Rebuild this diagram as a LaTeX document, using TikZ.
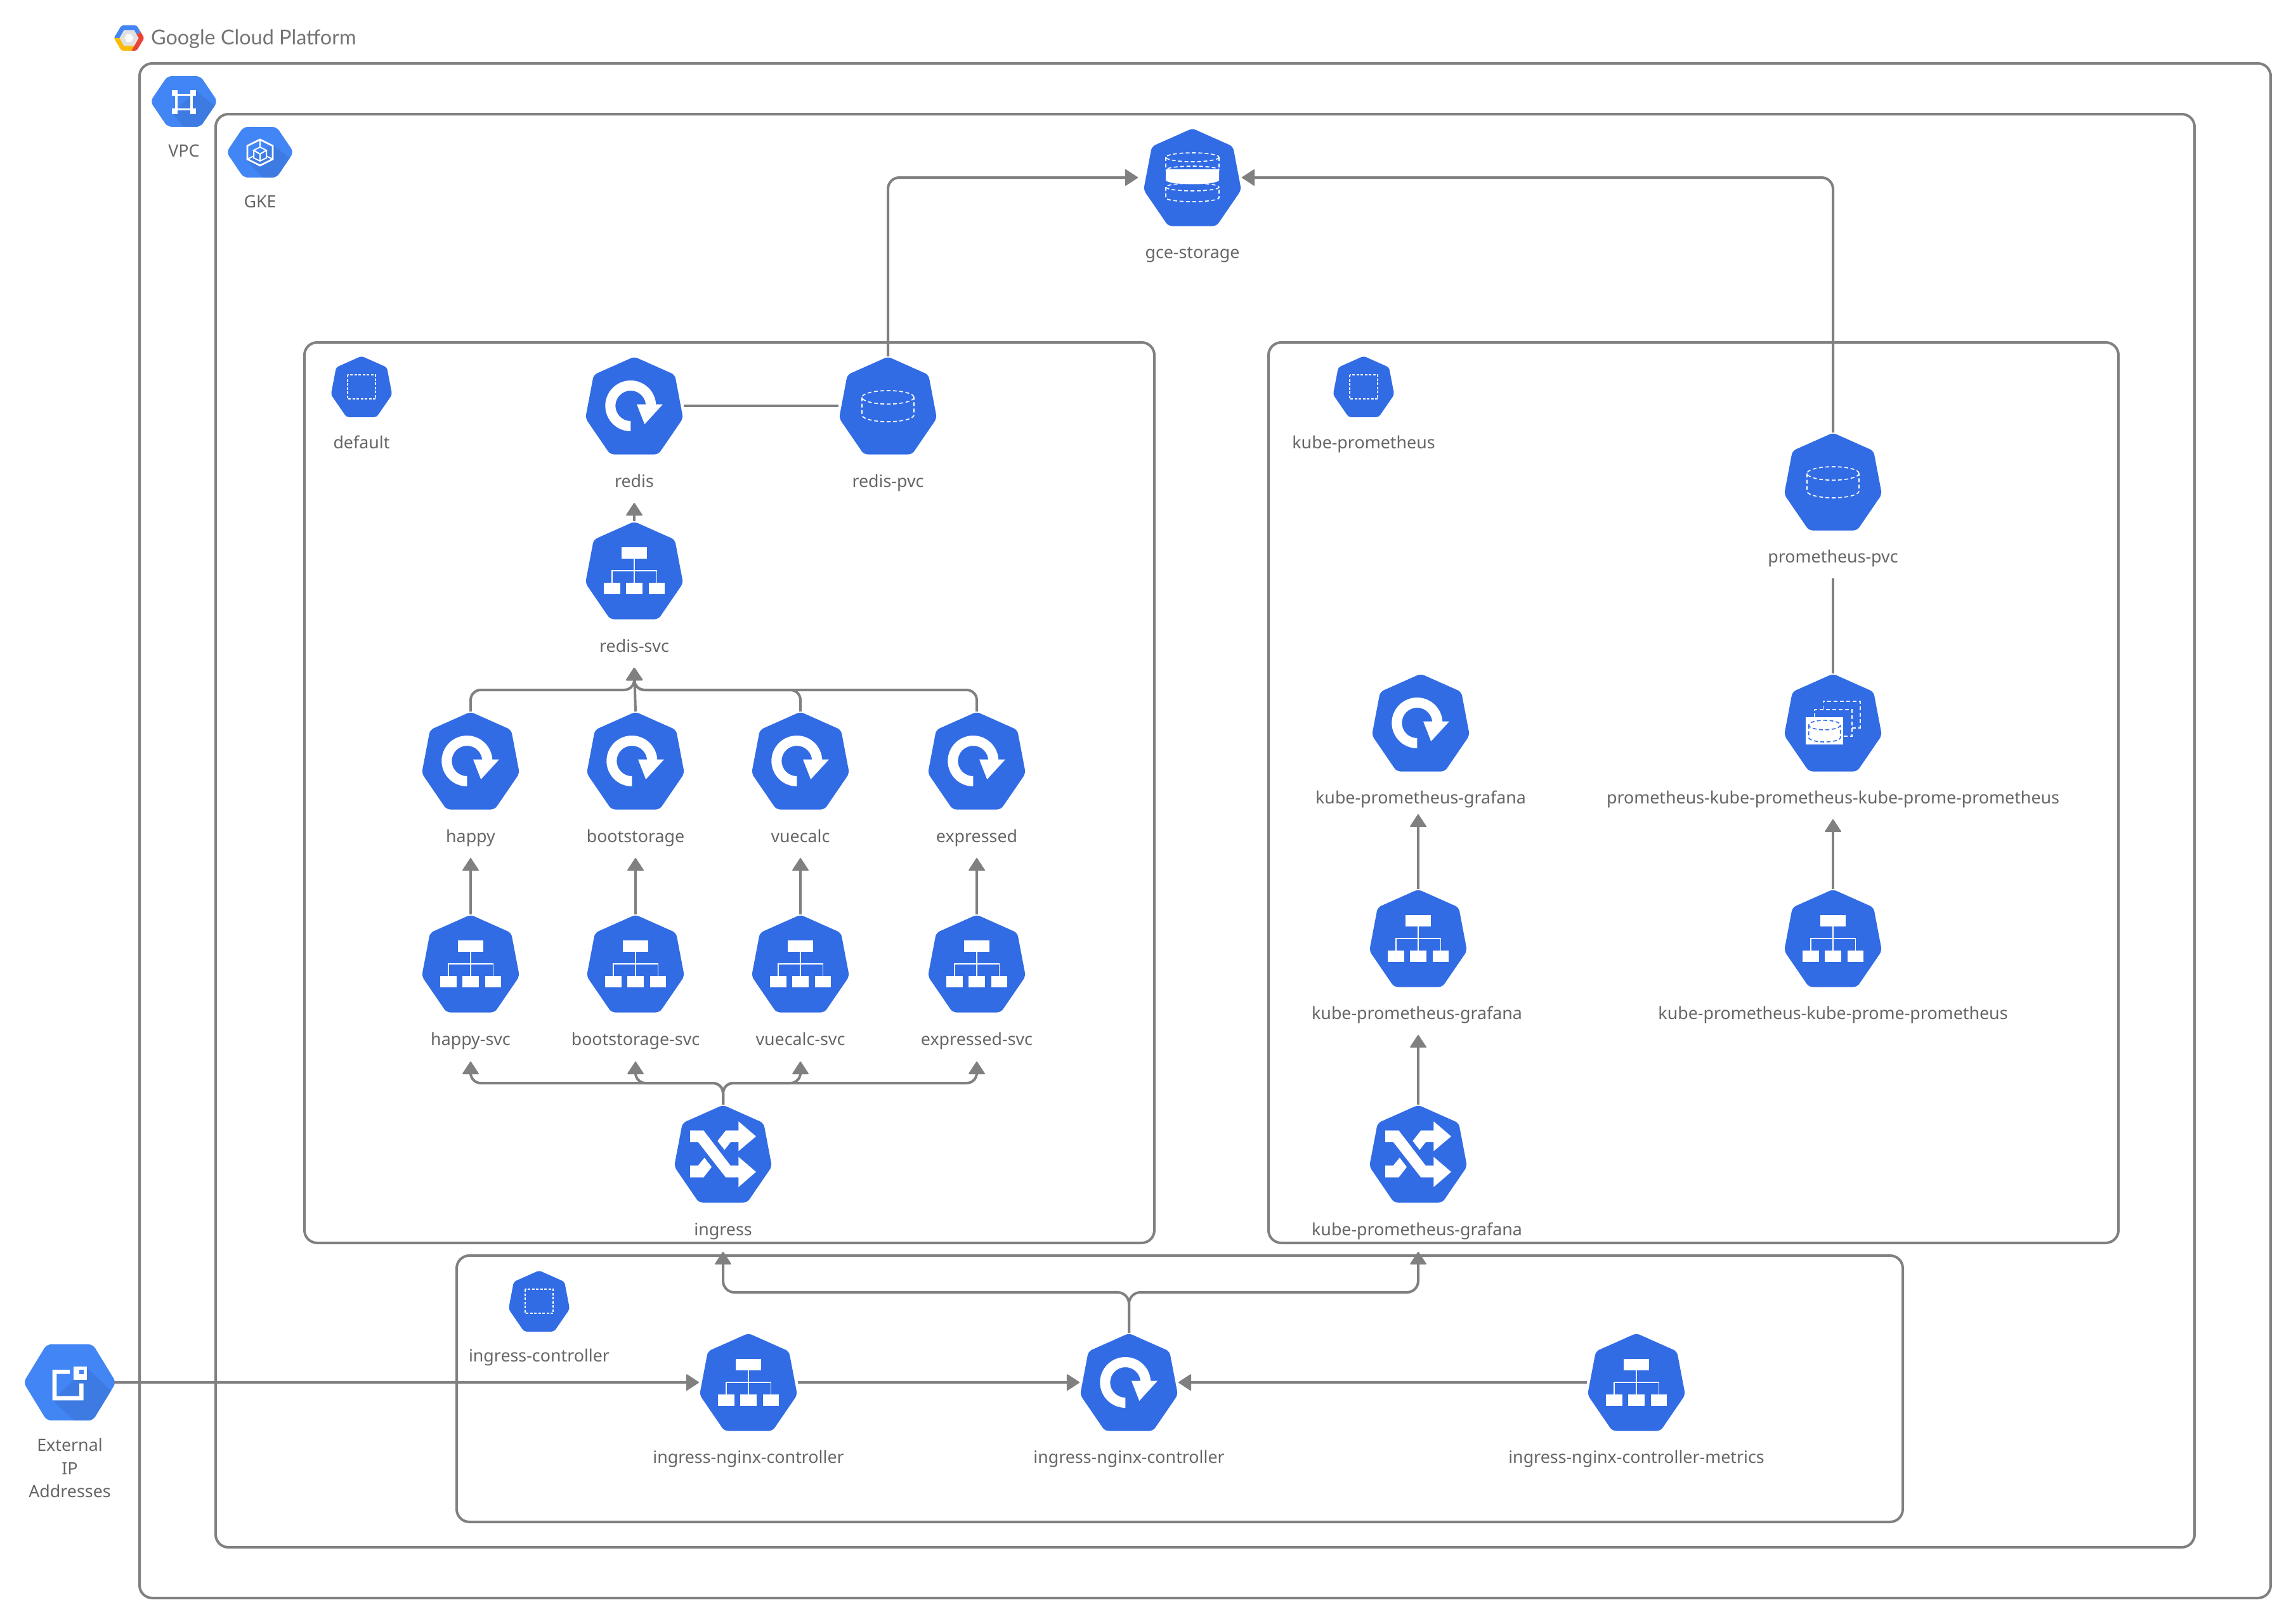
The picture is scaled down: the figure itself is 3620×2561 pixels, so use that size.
\documentclass[tikz,border=0pt]{standalone}
\usepackage{fontspec}
\setmainfont{Noto Sans}
\newfontfamily\gcpfont{Lato}
\usetikzlibrary{arrows.meta,calc}
\definecolor{kblue}{HTML}{326CE5}
\definecolor{gblue}{HTML}{4285F4}
\definecolor{gshade}{HTML}{3D7BE2}
\definecolor{linegray}{HTML}{808080}
\definecolor{txtgray}{HTML}{666666}
\definecolor{gred}{HTML}{EA4335}
\definecolor{gyellow}{HTML}{FBBC05}
\definecolor{glight}{HTML}{E1E1E1}
\definecolor{gtitle}{HTML}{757575}
\tikzset{
  x=1pt,y=-1pt,
  box/.style={draw=linegray,line width=4pt,rounded corners=20pt,inner sep=0pt,outer sep=0pt},
  knode/.style={minimum width=152pt,minimum height=152pt,inner sep=0pt,outer sep=2pt},
  knodes/.style={minimum width=95pt,minimum height=95pt,inner sep=0pt,outer sep=0pt},
  gnode/.style={inner sep=0pt,outer sep=0pt},
  lab/.style={font=\fontsize{26.8pt}{32pt}\selectfont,text=txtgray,inner sep=0pt,outer sep=0pt,
     text height=27pt,text depth=8pt,minimum height=68pt},
  line/.style={draw=linegray,line width=4pt},
  conn/.style={line,-{Triangle[length=21pt,width=27pt,round,line width=2pt]}},
  bent/.style={rounded corners=18pt},
  dashw/.style={draw=white,line width=1.6pt,dash pattern=on 6pt off 4pt},
  dashb/.style={draw=kblue,line width=1.6pt,dash pattern=on 6pt off 4pt},
}
\newcommand\heptpath{(0,-77.5) -- (64,-49) -- (77,19.5) -- (38,76.5) -- (-38,76.5) -- (-77,19.5) -- (-64,-49) -- cycle}
% icons
\newcommand\icondeploy{%
  \fill[white] (-5.7,40) arc[start angle=90,end angle=360,radius=40] -- (18.3,0)
     arc[start angle=360,end angle=90,radius=24] -- cycle;
  \fill[white] (4,-2.4) -- (45,-2.4) -- (16.3,29) -- cycle;
}
\newcommand\iconsvc{%
  \fill[white] (-20.4,-36.7) rectangle (20.4,-18.8);
  \fill[white] (-48,19.2) rectangle (-22.5,36.7);
  \fill[white] (-13,19.2) rectangle (13,36.7);
  \fill[white] (22.5,19.2) rectangle (48,36.7);
  \draw[white,line width=1.6pt] (0,-18.8) -- (0,19.2) (-35.3,19.2) -- (-35.3,0) -- (35.3,0) -- (35.3,19.2);
}
\newcommand\iconpvc{%
  \draw[dashw] (0,-13.4) ellipse [x radius=41,y radius=10.6];
  \draw[dashw] (-41,-13.4) -- (-41,14.4) arc[start angle=180,end angle=0,x radius=41,y radius=10.6] -- (41,-13.4);
}
\newcommand\icongce{%
  \fill[white] (-42,-13) -- (-42,4) arc[start angle=180,end angle=0,x radius=42,y radius=6.5] -- (42,-13) -- cycle;
  \draw[dashw] (0,-32) ellipse [x radius=42,y radius=7];
  \draw[dashw] (-42,-32) -- (-42,-12) (42,-32) -- (42,-12);
  \draw[dashw] (0,-12) ellipse [x radius=42,y radius=6];
  \draw[dashw] (0,15) ellipse [x radius=42,y radius=6];
  \draw[dashw] (-42,15) -- (-42,32) arc[start angle=180,end angle=0,x radius=42,y radius=6] -- (42,15);
}
\newcommand\iconsts{%
  \draw[dashw] (-15.7,-21) -- (-15.7,-34) -- (43,-34) -- (43,7.7) -- (30,7.7);
  \draw[dashw] (-29,-9) -- (-29,-21) -- (30,-21) -- (30,20.7) -- (16,20.7);
  \fill[white] (-42.7,-9) rectangle (16,33.7);
  \draw[dashb] (-13.3,3.4) ellipse [x radius=25,y radius=7.5];
  \draw[dashb] (-38.3,3.4) -- (-38.3,23) arc[start angle=180,end angle=0,x radius=25,y radius=7] -- (11.7,3.4);
}
\newcommand\iconing{%
  \fill[white] (-52,-37.3) -- (-30.7,-37.3) -- (11.7,18) -- (24.3,18) -- (24.3,4.3) -- (52,28) -- (24.3,52) -- (24.3,36.7) -- (4.3,36.7) -- (-39.3,-19) -- (-52,-19) -- cycle;
  \fill[white] (24.3,-51.7) -- (52,-28) -- (24.3,-4.7) -- (24.3,-19) -- (12,-19) -- (2.3,-6.7) -- (-8.7,-20.7) -- (4.3,-37.3) -- (24.3,-37.3) -- cycle;
  \fill[white] (-52,18) -- (-39.3,18) -- (-29.3,5.7) -- (-18,20.3) -- (-30.7,36.7) -- (-52,36.7) -- cycle;
}
\newcommand\kube[4]{%
  \node[knode] (#1) at (#2,#3) {};
  \begin{scope}[shift={(#2,#3)}]
    \fill[kblue,rounded corners=6pt] \heptpath;
    #4
  \end{scope}}
\newcommand\kubens[3]{%
  \node[knodes] (#1) at (#2,#3) {};
  \begin{scope}[shift={(#2,#3)}]
    \fill[kblue,rounded corners=4pt] (0,-48.5) -- (40,-30.7) -- (48.2,12.2) -- (23.7,47.8) -- (-23.7,47.8) -- (-48.2,12.2) -- (-40,-30.7) -- cycle;
    \draw[draw=white,line width=1.6pt,dash pattern=on 4pt off 2.5pt] (-22,-19) rectangle (22,19);
  \end{scope}}
\newcommand\lab[4]{\node[lab] (#1) at (#2,#3) {#4};}
% hexagon of the GCP icons: name, x, y, half width, half height, shade polygon, icon
\newcommand\gcphex[7]{%
  \node[gnode,minimum width=#4*2 pt,minimum height=#5*2 pt] (#1) at (#2,#3) {};
  \begin{scope}[shift={(#2,#3)}]
    \begin{scope}
      \clip[rounded corners=7pt] (-#4-3,0) -- ({-0.52*#4},-#5) -- ({0.52*#4},-#5) -- (#4+3,0) -- ({0.52*#4},#5) -- ({-0.52*#4},#5) -- cycle;
      \fill[gblue] (-#4-3,-#5) rectangle (#4+3,#5);
      \fill[gshade] #6;
    \end{scope}
    #7
  \end{scope}}
\begin{document}
\begin{tikzpicture}
\useasboundingbox (0,0) rectangle (3620,2561);
\fill[white] (0,0) rectangle (3620,2561);
% containers
\node[box,minimum width=3360pt,minimum height=2420pt] (vpcbox) at (1900,1310) {};
\node[box,minimum width=3120pt,minimum height=2260pt] (gkebox) at (1900,1310) {};
\node[box,minimum width=1340pt,minimum height=1420pt] (defbox) at (1150,1250) {};
\node[box,minimum width=1340pt,minimum height=1420pt] (kpbox) at (2670,1250) {};
\node[box,minimum width=2280pt,minimum height=420pt] (icbox) at (1860,2190) {};
% Google Cloud Platform logo
\node[gnode] (gcplogo) at (203.5,60) {};
\begin{scope}[shift={(203.5,60)}]
  \begin{scope}
    \clip[rounded corners=3pt] (-24,0) -- (-12,-20) -- (12,-20) -- (24,0) -- (12,20) -- (-12,20) -- cycle;
    \fill[gblue] (-25,0) -- (-25,-21) -- (12,-21) -- (18,-9) -- (0,0) -- cycle;
    \fill[gred] (12,-21) -- (25,-21) -- (25,21) -- (3,21) -- (15,0) -- (0,0) -- (18,-9) -- cycle;
    \fill[gyellow] (-25,0) -- (-25,21) -- (3,21) -- (8,12) -- (0,0) -- cycle;
  \end{scope}
  \fill[glight] (-15,0) -- (-8,-12.5) -- (8,-12.5) -- (15,0) -- (8,12.5) -- (-8,12.5) -- cycle;
  \fill[white!90!glight] (-7,0) -- (-3.5,-6) -- (3.5,-6) -- (7,0) -- (3.5,6) -- (-3.5,6) -- cycle;
\end{scope}
\node[gnode,anchor=west,text=gtitle,font=\gcpfont\fontsize{32.4pt}{40pt}\selectfont] (gcptitle) at (238,62) {Google Cloud Platform};
% GCP icons
\gcphex{vpc}{290}{160}{50}{40}{(19,-16) -- (60,15) -- (60,50) -- (7,50) -- (-18,18) -- cycle}{%
  \draw[white,line width=3.3pt] (-12,-10.7) rectangle (12,12.7);
  \foreach \a/\b in {-14.5/-13.5,14.5/-13.5,-14.5/15.5,14.5/15.5}{\fill[white] (\a-4.5,\b-4.5) rectangle (\a+4.5,\b+4.5);}
}
\lab{vpcl}{290}{238}{VPC}
\gcphex{gke}{410}{240}{50}{40}{(20,-12) -- (60,20) -- (60,50) -- (14,50) -- (-20,14) -- cycle}{%
  \draw[white,line width=2.8pt,line join=miter] (0,-20) -- (20,-10) -- (20,11) -- (0,21) -- (-20,11) -- (-20,-10) -- cycle;
  \draw[white,line width=2pt,line join=miter] (0,-8) -- (10,-3) -- (0,3) -- (-10,-3) -- cycle (-10,-3) -- (-10,9) -- (0,14) -- (10,9) -- (10,-3) (0,3) -- (0,14);
  \draw[white,line width=2pt] (0,-20) -- (0,-8) (-20,11) -- (-10,6) (20,11) -- (10,6);
}
\lab{gkel}{410}{318}{GKE}
\gcphex{ext}{110}{2180}{70}{60}{(27.3,-23) -- (70,18) -- (70,62) -- (8.3,62) -- (-27,28) -- cycle}{%
  \fill[white] (-27.3,-20) -- (0,-20) -- (0,-13.3) -- (-20.7,-13.3) -- (-20.7,21.7) -- (15,21.7) -- (15,1.7) -- (21.7,1.7) -- (21.7,28.3) -- (-27.3,28.3) -- cycle;
  \fill[white] (5.7,-25.3) rectangle (27.3,-4);
  \fill[gblue] (15,-20) rectangle (21.7,-13.3);
}
\node[lab,text height=,text depth=,minimum height=0pt,align=center,font=\fontsize{26.8pt}{36.5pt}\selectfont] (extl) at (110,2315) {External\\IP\\Addresses};
% namespaces
\kubens{nsdef}{570}{610}{}
\lab{nsdefl}{570}{698}{default}
\kubens{nskp}{2150}{610}{}
\lab{nskpl}{2150}{698}{kube-prometheus}
\kubens{nsic}{850}{2052}{}
\lab{nsicl}{850}{2138}{ingress-controller}
% top
\kube{gce}{1880}{280}{\icongce}
\lab{gcel}{1880}{398}{gce-storage}
% default namespace
\kube{redis}{1000}{640}{\icondeploy}
\lab{redisl}{1000}{759}{redis}
\kube{redispvc}{1400}{640}{\iconpvc}
\lab{redispvcl}{1400}{759}{redis-pvc}
\kube{redissvc}{1000}{900}{\iconsvc}
\lab{redissvcl}{1000}{1019}{redis-svc}
\kube{happy}{742}{1200}{\icondeploy}
\lab{happyl}{742}{1319}{happy}
\kube{boot}{1002}{1200}{\icondeploy}
\lab{bootl}{1002}{1319}{bootstorage}
\kube{vue}{1262}{1200}{\icondeploy}
\lab{vuel}{1262}{1319}{vuecalc}
\kube{expr}{1540}{1200}{\icondeploy}
\lab{exprl}{1540}{1319}{expressed}
\kube{happysvc}{742}{1520}{\iconsvc}
\lab{happysvcl}{742}{1639}{happy-svc}
\kube{bootsvc}{1002}{1520}{\iconsvc}
\lab{bootsvcl}{1002}{1639}{bootstorage-svc}
\kube{vuesvc}{1262}{1520}{\iconsvc}
\lab{vuesvcl}{1262}{1639}{vuecalc-svc}
\kube{exprsvc}{1540}{1520}{\iconsvc}
\lab{exprsvcl}{1540}{1639}{expressed-svc}
\kube{ingress}{1140}{1820}{\iconing}
\lab{ingressl}{1140}{1939}{ingress}
% kube-prometheus namespace
\kube{prompvc}{2890}{760}{\iconpvc}
\lab{prompvcl}{2890}{878}{prometheus-pvc}
\kube{promsts}{2890}{1140}{\iconsts}
\lab{promstsl}{2890}{1258}{prometheus-kube-prometheus-kube-prome-prometheus}
\kube{promsvc}{2890}{1480}{\iconsvc}
\lab{promsvcl}{2890}{1598}{kube-prometheus-kube-prome-prometheus}
\kube{graf}{2240}{1140}{\icondeploy}
\lab{grafl}{2240}{1258}{kube-prometheus-grafana}
\kube{grafsvc}{2236}{1480}{\iconsvc}
\lab{grafsvcl}{2234}{1598}{kube-prometheus-grafana}
\kube{grafing}{2236}{1820}{\iconing}
\lab{grafingl}{2234}{1939}{kube-prometheus-grafana}
% ingress controller
\kube{ngsvc}{1180}{2180}{\iconsvc}
\lab{ngsvcl}{1180}{2298}{ingress-nginx-controller}
\kube{ngdep}{1780}{2180}{\icondeploy}
\lab{ngdepl}{1780}{2298}{ingress-nginx-controller}
\kube{ngmet}{2580}{2180}{\iconsvc}
\lab{ngmetl}{2580}{2298}{ingress-nginx-controller-metrics}
% connectors
\draw[conn,bent] (redispvc.north) |- ([xshift=-8pt]gce.west);
\draw[conn,bent] (prompvc.north) |- (gce.east);
\draw[line] (redis.east) -- (redispvc.west);
\draw[conn] (redissvc.north) -- (redisl.south);
\draw[conn,rounded corners=16pt] (happy.north) -- ++(0,-34) -| (redissvcl.south);
\draw[conn] (boot.north) -- (redissvcl.south);
\draw[conn,rounded corners=16pt] (vue.north) -- ++(0,-34) -| (redissvcl.south);
\draw[conn,rounded corners=16pt] (expr.north) -- ++(0,-34) -| (redissvcl.south);
\draw[conn] (happysvc.north) -- (happyl.south);
\draw[conn] (bootsvc.north) -- (bootl.south);
\draw[conn] (vuesvc.north) -- (vuel.south);
\draw[conn] (exprsvc.north) -- (exprl.south);
\draw[conn,rounded corners=16pt] (ingress.north) -- ++(0,-34) -| ([yshift=-1pt]happysvcl.south);
\draw[conn,rounded corners=16pt] (ingress.north) -- ++(0,-34) -| ([yshift=-1pt]bootsvcl.south);
\draw[conn,rounded corners=16pt] (ingress.north) -- ++(0,-34) -| ([yshift=-1pt]vuesvcl.south);
\draw[conn,rounded corners=16pt] (ingress.north) -- ++(0,-34) -| ([yshift=-1pt]exprsvcl.south);
\draw[line] (prompvcl.south) -- (promsts.north);
\draw[conn] (promsvc.north) -- (promstsl.south);
\draw[conn] (grafsvc.north) -- ([yshift=8pt]grafsvc.north |- grafl.south);
\draw[conn] (grafing.north) -- (grafing.north |- grafsvcl.south);
\draw[conn,rounded corners=18pt] (ngdep.north) -- ++(0,-64) -| ([yshift=-1pt]ingressl.south);
\draw[conn,rounded corners=18pt] (ngdep.north) -- ++(0,-64) -| ([yshift=-1pt]grafing.south |- grafingl.south);
\draw[conn] (ext.east) -- (ngsvc.west);
\draw[conn] (ngsvc.east) -- (ngdep.west);
\draw[conn] (ngmet.west) -- (ngdep.east);
\end{tikzpicture}
\end{document}
